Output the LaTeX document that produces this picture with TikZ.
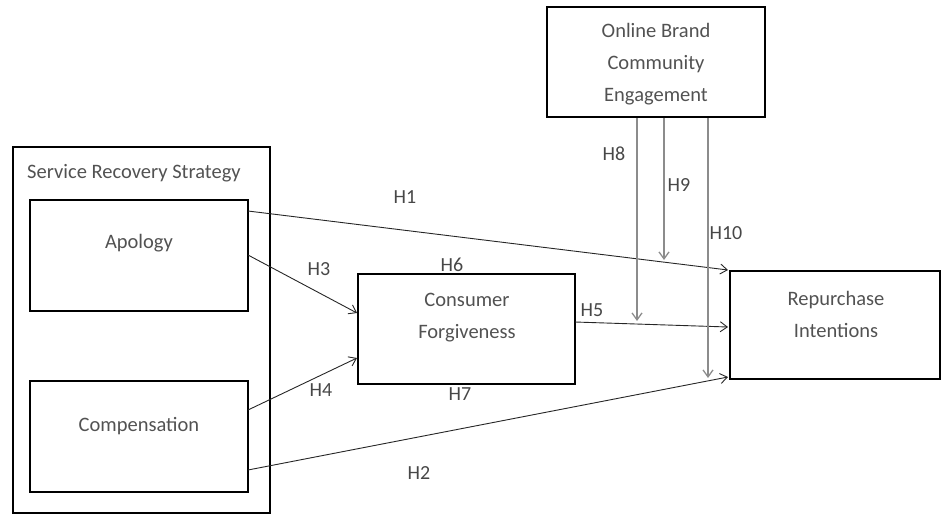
\documentclass[tikz,border=0pt]{standalone}
\usepackage{fontspec}
\setmainfont{Carlito}
\usetikzlibrary{arrows.meta}
\begin{document}
\begin{tikzpicture}[x=1pt,y=-1pt,
  lbl/.style={text=black!68,font=\fontsize{20.5}{32}\selectfont,align=center,inner sep=0pt},
  hl/.style={text=black!72,font=\fontsize{20}{24}\selectfont,inner sep=0pt},
  arr/.style={draw=black!85,line width=0.9pt,-{Straight Barb[length=7pt,width=10pt]}},
  varr/.style={draw=black!45,line width=1.3pt,-{Straight Barb[length=7pt,width=10pt]}}]
\useasboundingbox (0,0) rectangle (943,515);
% boxes
\draw[line width=2.8pt] (13,147) rectangle (270,513);
\node[lbl,anchor=west] (srs) at (27,173) {Service Recovery Strategy};
\draw[line width=2.8pt] (30,200) rectangle (248,311);
\node[lbl] (apol) at (139,243) {Apology};
\draw[line width=2.8pt] (30,381) rectangle (248,492);
\node[lbl] (comp) at (139,426) {Compensation};
\draw[line width=2.8pt] (358,274) rectangle (575,384);
\node[lbl] (cf) at (467,318) {Consumer\\Forgiveness};
\draw[line width=2.8pt] (730,271) rectangle (940,379);
\node[lbl] (ri) at (836,314) {Repurchase\\Intentions};
\draw[line width=2.8pt] (547,7) rectangle (765,117);
\node[lbl] (ob) at (656,64) {Online Brand\\Community\\Engagement};
% connection points
\coordinate (a1) at (248,211);
\coordinate (a3) at (248,255);
\coordinate (c4) at (248,410);
\coordinate (c2) at (248,470);
\coordinate (cfin1) at (357,313);
\coordinate (cfin2) at (357,358);
\coordinate (cfout) at (575,322);
\coordinate (ri1) at (728,270);
\coordinate (ri5) at (728,327);
\coordinate (ri2) at (728,377);
\coordinate (v8s) at (637,118);
\coordinate (v8e) at (637,321);
\coordinate (v9s) at (664,118);
\coordinate (v9e) at (664,260);
\coordinate (v10s) at (708,118);
\coordinate (v10e) at (708,378);
% arrows
\draw[arr] (a1) -- (ri1);
\draw[arr] (a3) -- (cfin1);
\draw[arr] (c4) -- (cfin2);
\draw[arr] (c2) -- (ri2);
\draw[arr] (cfout) -- (ri5);
\draw[varr] (v8s) -- (v8e);
\draw[varr] (v9s) -- (v9e);
\draw[varr] (v10s) -- (v10e);
% labels
\node[hl] (h1) at (405,197) {H1};
\node[hl] (h2) at (419,473) {H2};
\node[hl] (h3) at (319,269) {H3};
\node[hl] (h4) at (321,390) {H4};
\node[hl] (h5) at (592,310) {H5};
\node[hl] (h6) at (452,265) {H6};
\node[hl] (h7) at (460,394) {H7};
\node[hl] (h8) at (614,154) {H8};
\node[hl] (h9) at (679,185) {H9};
\node[hl] (h10) at (726,233) {H10};
\end{tikzpicture}
\end{document}
